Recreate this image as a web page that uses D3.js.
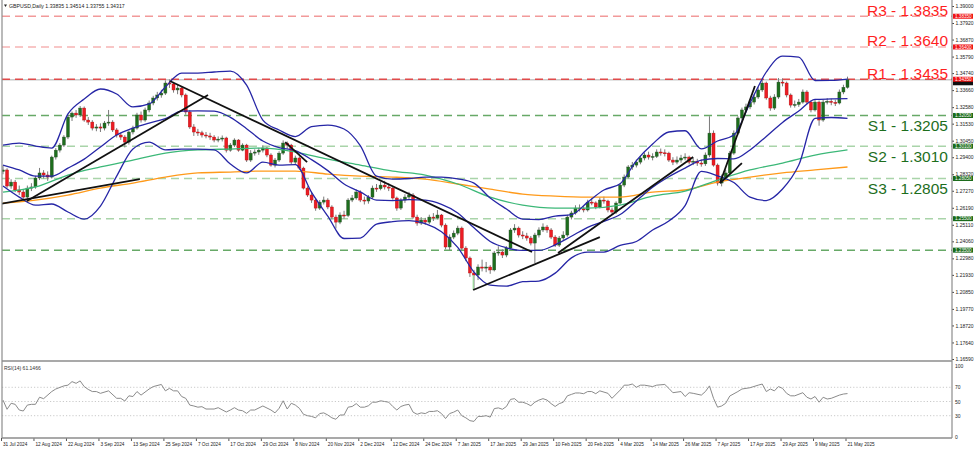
<!DOCTYPE html>
<html>
<head>
<meta charset="utf-8">
<script src="https://cdn.jsdelivr.net/npm/d3@7"></script>
<style>
  body { margin: 0; background: #fff; }
  svg { display: block; font-family: "Liberation Sans", Arial, sans-serif; }
</style>
</head>
<body>
<svg id="chart" width="975" height="451"></svg>
<script>
// GBPUSD daily, 31 Jul 2024 .. 21 May 2025, one entry per bar
const dateLabels = ['31 Jul 2024', '12 Aug 2024', '22 Aug 2024', '3 Sep 2024', '13 Sep 2024', '25 Sep 2024',
  '7 Oct 2024', '17 Oct 2024', '29 Oct 2024', '8 Nov 2024', '20 Nov 2024', '2 Dec 2024', '12 Dec 2024',
  '24 Dec 2024', '7 Jan 2025', '17 Jan 2025', '29 Jan 2025', '10 Feb 2025', '20 Feb 2025', '4 Mar 2025',
  '14 Mar 2025', '26 Mar 2025', '7 Apr 2025', '17 Apr 2025', '29 Apr 2025', '9 May 2025', '21 May 2025']
const barsPerLabel = 8

const opens = [1.2850, 1.2859, 1.2757, 1.2782, 1.2732, 1.2719, 1.2687, 1.2744, 1.2751, 1.2808,
  1.2840, 1.2827, 1.2814, 1.2941, 1.2985, 1.3017, 1.3068, 1.3195, 1.3220, 1.3208,
  1.3252, 1.3176, 1.3163, 1.3125, 1.3132, 1.3125, 1.3157, 1.3163, 1.3113, 1.3081,
  1.3068, 1.3036, 1.3100, 1.3125, 1.3208, 1.3176, 1.3240, 1.3284, 1.3316, 1.3335,
  1.3347, 1.3411, 1.3405, 1.3367, 1.3379, 1.3335, 1.3227, 1.3132, 1.3100, 1.3095,
  1.3081, 1.3075, 1.3068, 1.3049, 1.3055, 1.3062, 1.2985, 1.3017, 1.3049, 1.2985,
  1.3017, 1.2922, 1.2966, 1.2973, 1.2985, 1.2998, 1.2954, 1.2890, 1.2922, 1.2966,
  1.3030, 1.3017, 1.2909, 1.2935, 1.2871, 1.2744, 1.2700, 1.2668, 1.2617, 1.2655,
  1.2668, 1.2624, 1.2560, 1.2528, 1.2573, 1.2570, 1.2668, 1.2681, 1.2719, 1.2668,
  1.2662, 1.2687, 1.2744, 1.2740, 1.2763, 1.2751, 1.2744, 1.2681, 1.2617, 1.2668,
  1.2687, 1.2700, 1.2560, 1.2522, 1.2541, 1.2528, 1.2560, 1.2554, 1.2573, 1.2509,
  1.2370, 1.2433, 1.2458, 1.2490, 1.2363, 1.2300, 1.2205, 1.2192, 1.2243, 1.2236,
  1.2243, 1.2224, 1.2332, 1.2338, 1.2319, 1.2363, 1.2478, 1.2490, 1.2446, 1.2440,
  1.2427, 1.2395, 1.2446, 1.2478, 1.2497, 1.2478, 1.2433, 1.2382, 1.2427, 1.2446,
  1.2560, 1.2586, 1.2617, 1.2612, 1.2605, 1.2655, 1.2650, 1.2624, 1.2668, 1.2662,
  1.2605, 1.2592, 1.2649, 1.2763, 1.2814, 1.2878, 1.2890, 1.2909, 1.2935, 1.2954,
  1.2941, 1.2945, 1.2973, 1.2968, 1.2966, 1.2922, 1.2909, 1.2922, 1.2935, 1.2941,
  1.2909, 1.2915, 1.2903, 1.2898, 1.2954, 1.3093, 1.2890, 1.2776, 1.2808, 1.2840,
  1.2966, 1.3093, 1.3189, 1.3240, 1.3259, 1.3290, 1.3322, 1.3367, 1.3411, 1.3316,
  1.3252, 1.3322, 1.3417, 1.3411, 1.3335, 1.3271, 1.3275, 1.3290, 1.3354, 1.3290,
  1.3240, 1.3290, 1.3176, 1.3290, 1.3295, 1.3288, 1.3284, 1.3354, 1.33835]

const highs = [1.2888, 1.2870, 1.2800, 1.2795, 1.2760, 1.2735, 1.2760, 1.2775, 1.2822, 1.2872,
  1.2858, 1.2850, 1.2950, 1.2998, 1.3030, 1.3080, 1.3210, 1.3230, 1.3240, 1.3265,
  1.3262, 1.3195, 1.3175, 1.3150, 1.3155, 1.3170, 1.3240, 1.3175, 1.3125, 1.3095,
  1.3080, 1.3110, 1.3140, 1.3222, 1.3230, 1.3255, 1.3300, 1.3330, 1.3355, 1.3368,
  1.3428, 1.3434, 1.3418, 1.3400, 1.3392, 1.3345, 1.3240, 1.3150, 1.3120, 1.3108,
  1.3100, 1.3095, 1.3080, 1.3072, 1.3078, 1.3070, 1.3030, 1.3060, 1.3055, 1.3028,
  1.3025, 1.2985, 1.2990, 1.3000, 1.3015, 1.3005, 1.2965, 1.2935, 1.2978, 1.3047,
  1.3040, 1.3025, 1.2950, 1.2945, 1.2880, 1.2755, 1.2715, 1.2680, 1.2668, 1.2690,
  1.2680, 1.2635, 1.2575, 1.2590, 1.2600, 1.2680, 1.2700, 1.2735, 1.2730, 1.2690,
  1.2700, 1.2760, 1.2770, 1.2785, 1.2790, 1.2775, 1.2755, 1.2690, 1.2680, 1.2705,
  1.2720, 1.2712, 1.2575, 1.2560, 1.2555, 1.2575, 1.2585, 1.2605, 1.2580, 1.2520,
  1.2450, 1.2475, 1.2505, 1.2500, 1.2375, 1.2310, 1.2225, 1.2260, 1.2290, 1.2275,
  1.2255, 1.2345, 1.2375, 1.2355, 1.2375, 1.2490, 1.2515, 1.2500, 1.2470, 1.2460,
  1.2440, 1.2460, 1.2495, 1.2520, 1.2510, 1.2490, 1.2445, 1.2440, 1.2470, 1.2575,
  1.2600, 1.2635, 1.2640, 1.2630, 1.2670, 1.2680, 1.2660, 1.2685, 1.2690, 1.2670,
  1.2620, 1.2660, 1.2775, 1.2830, 1.2890, 1.2910, 1.2925, 1.2950, 1.2970, 1.2975,
  1.2965, 1.2990, 1.2995, 1.2990, 1.2975, 1.2940, 1.2945, 1.2955, 1.2965, 1.2950,
  1.2935, 1.2930, 1.2925, 1.2970, 1.3200, 1.3110, 1.2900, 1.2830, 1.2860, 1.2980,
  1.3110, 1.3200, 1.3255, 1.3280, 1.3305, 1.3340, 1.3385, 1.3430, 1.3420, 1.3330,
  1.3340, 1.3443, 1.3440, 1.3420, 1.3345, 1.3300, 1.3310, 1.3370, 1.3365, 1.3300,
  1.3305, 1.3300, 1.3305, 1.3315, 1.3310, 1.3305, 1.3370, 1.3400, 1.34514]

const lows = [1.2832, 1.2745, 1.2740, 1.2718, 1.2700, 1.2665, 1.2675, 1.2725, 1.2740, 1.2795,
  1.2805, 1.2790, 1.2805, 1.2925, 1.2970, 1.3005, 1.3055, 1.3170, 1.3190, 1.3195,
  1.3165, 1.3145, 1.3110, 1.3105, 1.3100, 1.3110, 1.3140, 1.3100, 1.3065, 1.3050,
  1.3002, 1.3020, 1.3085, 1.3115, 1.3160, 1.3165, 1.3225, 1.3270, 1.3300, 1.3318,
  1.3335, 1.3380, 1.3350, 1.3340, 1.3320, 1.3210, 1.3120, 1.3075, 1.3075, 1.3065,
  1.3060, 1.3050, 1.3035, 1.3035, 1.3040, 1.2970, 1.2975, 1.3005, 1.2975, 1.2978,
  1.2910, 1.2910, 1.2950, 1.2955, 1.2970, 1.2940, 1.2880, 1.2875, 1.2910, 1.2955,
  1.2995, 1.2895, 1.2895, 1.2860, 1.2735, 1.2688, 1.2650, 1.2600, 1.2605, 1.2640,
  1.2610, 1.2545, 1.2487, 1.2515, 1.2550, 1.2560, 1.2655, 1.2670, 1.2655, 1.2640,
  1.2645, 1.2675, 1.2720, 1.2730, 1.2735, 1.2725, 1.2670, 1.2600, 1.2605, 1.2650,
  1.2675, 1.2550, 1.2505, 1.2510, 1.2510, 1.2515, 1.2535, 1.2545, 1.2495, 1.2355,
  1.2350, 1.2420, 1.2445, 1.2350, 1.2280, 1.2180, 1.2100, 1.2160, 1.2215, 1.2210,
  1.2200, 1.2215, 1.2315, 1.2300, 1.2305, 1.2355, 1.2460, 1.2430, 1.2420, 1.2410,
  1.2380, 1.2268, 1.2430, 1.2465, 1.2460, 1.2420, 1.2370, 1.2370, 1.2415, 1.2435,
  1.2545, 1.2575, 1.2595, 1.2590, 1.2595, 1.2635, 1.2610, 1.2615, 1.2645, 1.2590,
  1.2575, 1.2580, 1.2640, 1.2750, 1.2805, 1.2860, 1.2875, 1.2895, 1.2920, 1.2925,
  1.2920, 1.2935, 1.2950, 1.2945, 1.2910, 1.2890, 1.2895, 1.2905, 1.2920, 1.2895,
  1.2890, 1.2885, 1.2880, 1.2885, 1.2940, 1.2880, 1.2760, 1.2755, 1.2790, 1.2830,
  1.2955, 1.3080, 1.3175, 1.3225, 1.3245, 1.3275, 1.3310, 1.3355, 1.3305, 1.3235,
  1.3240, 1.3310, 1.3390, 1.3320, 1.3255, 1.3255, 1.3260, 1.3280, 1.3275, 1.3225,
  1.3230, 1.3140, 1.3165, 1.3275, 1.3270, 1.3265, 1.3275, 1.3340, 1.33755]

const closes = [1.2859, 1.2757, 1.2782, 1.2732, 1.2719, 1.2687, 1.2744, 1.2751, 1.2808, 1.2840,
  1.2827, 1.2814, 1.2941, 1.2985, 1.3017, 1.3068, 1.3195, 1.3220, 1.3208, 1.3252,
  1.3176, 1.3163, 1.3125, 1.3132, 1.3125, 1.3157, 1.3163, 1.3113, 1.3081, 1.3068,
  1.3036, 1.3100, 1.3125, 1.3208, 1.3176, 1.3240, 1.3284, 1.3316, 1.3335, 1.3347,
  1.3411, 1.3405, 1.3367, 1.3379, 1.3335, 1.3227, 1.3132, 1.3100, 1.3095, 1.3081,
  1.3075, 1.3068, 1.3049, 1.3055, 1.3062, 1.2985, 1.3017, 1.3049, 1.2985, 1.3017,
  1.2922, 1.2966, 1.2973, 1.2985, 1.2998, 1.2954, 1.2890, 1.2922, 1.2966, 1.3030,
  1.3017, 1.2909, 1.2935, 1.2871, 1.2744, 1.2700, 1.2668, 1.2617, 1.2655, 1.2668,
  1.2624, 1.2560, 1.2528, 1.2573, 1.2570, 1.2668, 1.2681, 1.2719, 1.2668, 1.2662,
  1.2687, 1.2744, 1.2740, 1.2763, 1.2751, 1.2744, 1.2681, 1.2617, 1.2668, 1.2687,
  1.2700, 1.2560, 1.2522, 1.2541, 1.2528, 1.2560, 1.2554, 1.2573, 1.2509, 1.2370,
  1.2433, 1.2458, 1.2490, 1.2363, 1.2300, 1.2205, 1.2192, 1.2243, 1.2236, 1.2243,
  1.2224, 1.2332, 1.2338, 1.2319, 1.2363, 1.2478, 1.2490, 1.2446, 1.2440, 1.2427,
  1.2395, 1.2446, 1.2478, 1.2497, 1.2478, 1.2433, 1.2382, 1.2427, 1.2446, 1.2560,
  1.2586, 1.2617, 1.2612, 1.2605, 1.2655, 1.2650, 1.2624, 1.2668, 1.2662, 1.2605,
  1.2592, 1.2649, 1.2763, 1.2814, 1.2878, 1.2890, 1.2909, 1.2935, 1.2954, 1.2941,
  1.2945, 1.2973, 1.2968, 1.2966, 1.2922, 1.2909, 1.2922, 1.2935, 1.2941, 1.2909,
  1.2915, 1.2903, 1.2898, 1.2954, 1.3093, 1.2890, 1.2776, 1.2808, 1.2840, 1.2966,
  1.3093, 1.3189, 1.3240, 1.3259, 1.3290, 1.3322, 1.3367, 1.3411, 1.3316, 1.3252,
  1.3322, 1.3417, 1.3411, 1.3335, 1.3271, 1.3275, 1.3290, 1.3354, 1.3290, 1.3240,
  1.3290, 1.3176, 1.3290, 1.3295, 1.3288, 1.3284, 1.3354, 1.3384, 1.34317]

// Bollinger bands every 4th bar
const bandStep = 4
const bbUpper = [1.3017, 1.3030, 1.3011, 1.2998, 1.3215, 1.3309, 1.3373, 1.3341, 1.3259, 1.3278,
  1.3386, 1.3474, 1.3474, 1.3481, 1.3487, 1.3398, 1.3176, 1.3113, 1.3071, 1.3134,
  1.3144, 1.3119, 1.3014, 1.2820, 1.2801, 1.2805, 1.2814, 1.2814, 1.2803, 1.2776,
  1.2681, 1.2611, 1.2547, 1.2544, 1.2566, 1.2575, 1.2655, 1.2732, 1.2772, 1.2918,
  1.3024, 1.3100, 1.3108, 1.2993, 1.3043, 1.3081, 1.3284, 1.3481, 1.3582, 1.3576,
  1.3427, 1.3428, 1.3436]
const bbMiddle = [1.2890, 1.2859, 1.2820, 1.2820, 1.2871, 1.2928, 1.3005, 1.3081, 1.3125, 1.3157,
  1.3185, 1.3233, 1.3234, 1.3232, 1.3193, 1.3121, 1.3043, 1.3001, 1.2982, 1.2925,
  1.2855, 1.2770, 1.2720, 1.2668, 1.2665, 1.2671, 1.2667, 1.2640, 1.2586, 1.2492,
  1.2405, 1.2365, 1.2348, 1.2348, 1.2384, 1.2438, 1.2495, 1.2533, 1.2576, 1.2662,
  1.2749, 1.2816, 1.2871, 1.2921, 1.2932, 1.2929, 1.2986, 1.3072, 1.3161, 1.3233,
  1.3307, 1.3310, 1.3312]
const bbLower = [1.2757, 1.2687, 1.2636, 1.2643, 1.2592, 1.2547, 1.2630, 1.2820, 1.2992, 1.3036,
  1.2986, 1.2992, 1.2992, 1.2986, 1.2897, 1.2840, 1.2909, 1.2890, 1.2893, 1.2717,
  1.2566, 1.2424, 1.2427, 1.2516, 1.2531, 1.2538, 1.2519, 1.2467, 1.2368, 1.2211,
  1.2128, 1.2122, 1.2150, 1.2154, 1.2204, 1.2301, 1.2338, 1.2338, 1.2380, 1.2405,
  1.2478, 1.2535, 1.2633, 1.2850, 1.2822, 1.2779, 1.2687, 1.2665, 1.2738, 1.2890,
  1.3186, 1.3192, 1.3187]

// moving averages read every 8th bar
const maStep = 8
const maGreen = [1.2719, 1.2751, 1.2827, 1.2878, 1.2922, 1.2966, 1.2986, 1.2992, 1.2998, 1.2973,
  1.2928, 1.2890, 1.2852, 1.2827, 1.2770, 1.2687, 1.2636, 1.2617, 1.2617, 1.2636,
  1.2693, 1.2725, 1.2795, 1.2859, 1.2903, 1.2954, 1.2986]
const maOrange = [1.2649, 1.2668, 1.2700, 1.2744, 1.2776, 1.2814, 1.2840, 1.2846, 1.2852, 1.2852,
  1.2833, 1.2820, 1.2814, 1.2801, 1.2770, 1.2738, 1.2706, 1.2693, 1.2687, 1.2687,
  1.2719, 1.2732, 1.2782, 1.2814, 1.2840, 1.2859, 1.2878]

// RSI(14): bar index and value as read
const rsiBars = [0, 1, 2, 3, 4, 5, 6, 7, 8, 9, 10, 12, 13, 15, 16, 17, 18, 19, 20, 21, 22, 23, 24, 26, 28, 29, 30,
  31, 32, 33, 34, 36, 37, 39, 40, 41, 42, 43, 44, 45, 46, 47, 48, 49, 50, 52, 53, 55, 56, 57, 58, 59, 60,
  61, 62, 64, 66, 67, 68, 69, 70, 71, 72, 73, 74, 75, 76, 77, 78, 79, 80, 81, 82, 83, 84, 85, 86, 87, 88,
  89, 90, 91, 92, 93, 94, 95, 96, 97, 98, 99, 100, 101, 102, 103, 104, 105, 106, 107, 108, 109, 110, 111,
  112, 113, 114, 115, 116, 117, 118, 119, 120, 121, 122, 123, 124, 125, 126, 127, 128, 129, 130, 131, 132,
  133, 134, 135, 136, 137, 138, 139, 140, 141, 142, 143, 144, 145, 146, 147, 149, 150, 152, 153, 154, 155,
  156, 157, 158, 160, 161, 163, 164, 165, 167, 168, 169, 170, 172, 173, 174, 175, 176, 177, 178, 179, 181,
  182, 183, 184, 186, 187, 188, 189, 190, 191, 192, 193, 194, 195, 197, 198, 199, 200, 201, 202, 203, 204,
  206, 207, 208]
const rsiValues = [52, 39, 47.5, 46, 38, 36.6, 45, 46, 46, 56, 54, 64, 67.6, 72, 73, 78, 75.6, 79, 71, 67, 64, 64, 61.5, 65, 54.5, 54.5, 50.7,
  58, 57, 64, 59, 67.6, 71, 74, 65, 68.5, 65, 65, 57, 54.5, 45, 43.7, 42, 42.7, 39.4, 39.4, 41.3, 35.2, 38, 41.3, 38, 37, 33.3,
  38, 38, 43.7, 38, 34, 40.4, 51, 39.4, 47.5, 45, 40.4, 32, 30, 29, 27, 33, 34, 31, 27, 25, 31, 31, 42, 43, 47, 42,
  42, 44, 49, 49, 51, 50, 49, 43, 38, 43, 45, 46, 35, 32, 34, 33, 36, 36, 37, 33, 26, 33, 35,
  38, 30, 27, 23, 22, 29, 29, 30, 28, 40, 41, 39, 43, 53, 54, 49, 49, 47, 44, 49, 52,
  54, 52, 47, 43, 47, 49, 58, 60, 62, 62, 61, 64, 64, 61, 65, 61.5, 54.5, 66, 73, 73, 74.6,
  70, 73, 73, 71, 73, 74, 68.5, 62.4, 64, 57, 62.4, 61.5, 59, 64, 72, 54.5, 42, 43.7, 47.5, 57.7, 64,
  67.6, 68.5, 69.4, 73, 74.6, 64, 67.6, 65, 71, 68.5, 61.5, 58, 58, 62.4, 56, 53.5, 57, 49, 56, 53.5, 54.5,
  59, 60.5, 61.1466]

const priceTicks = [1.39000, 1.37920, 1.36870, 1.35790, 1.34740, 1.33660, 1.32580, 1.31530, 1.30450, 1.29400,
  1.28320, 1.27270, 1.26190, 1.25110, 1.24060, 1.22980, 1.21930, 1.20850, 1.19770, 1.18720, 1.17640, 1.16590]
const rsiTicks = [100, 70, 50, 30, 0]

const levelNames = ['R3', 'R2', 'R1', 'S1', 'S2', 'S3']
const levelValues = [1.3835, 1.3640, 1.3435, 1.3205, 1.3010, 1.2805]
const extraLevels = [1.2550, 1.2350]

// hand drawn trend lines: [bar, price] end points
const trendLines = [
  [[-0.7, 1.2643], [33.7, 1.2801]],
  [[5.9, 1.2662], [50.5, 1.3335]],
  [[41.1, 1.3424], [130.3, 1.2338]],
  [[69.5, 1.3036], [74.9, 1.2909]],
  [[115.8, 1.2097], [147, 1.2433]],
  [[136.7, 1.2332], [170, 1.2941]],
  [[176.6, 1.2776], [185.2, 1.3392]],
  [[176.6, 1.2776], [182, 1.2903]]
]

const header = 'GBPUSD,Daily 1.33835 1.34514 1.33755 1.34317'

const svg = d3.select('#chart')
const plotLeft = 2
const axisX = 952
const mainBottom = 361
const rsiBottom = 438

const x = d3.scaleLinear().domain([0, 208]).range([3, 847.5])
const y = d3.scaleLinear().domain([1.1659, 1.39]).range([359, 6])
const yRsi = d3.scaleLinear().domain([0, 100]).range([437, 366])

const defs = svg.append('defs')
defs.append('clipPath').attr('id', 'clipMain')
  .append('rect').attr('x', plotLeft).attr('y', 0).attr('width', axisX - plotLeft).attr('height', mainBottom)
defs.append('clipPath').attr('id', 'clipRsi')
  .append('rect').attr('x', plotLeft).attr('y', mainBottom + 1).attr('width', axisX - plotLeft).attr('height', rsiBottom - mainBottom - 1)

const main = svg.append('g').attr('clip-path', 'url(#clipMain)')

// horizontal levels
const levelColor = {
  R3: '#f29a9a', R2: '#f6b4b4', R1: '#e04a4a', S1: '#67a967', S2: '#a9d4a9', S3: '#a9d4a9'
}
const allLevels = levelValues.map((v, i) => ({ name: levelNames[i], value: v }))
  .concat(extraLevels.map((v, i) => ({ name: '', value: v, color: i === 1 ? '#67a967' : '#a9d4a9' })))

main.append('line')
  .attr('x1', plotLeft).attr('x2', axisX)
  .attr('y1', y(closes[closes.length - 1])).attr('y2', y(closes[closes.length - 1]))
  .attr('stroke', '#c8c8c8').attr('stroke-width', 1.5)

main.selectAll('line.level').data(allLevels).enter()
  .append('line').attr('class', 'level')
  .attr('x1', plotLeft).attr('x2', axisX)
  .attr('y1', d => y(d.value)).attr('y2', d => y(d.value))
  .attr('stroke', d => d.color || levelColor[d.name])
  .attr('stroke-width', 1.5)
  .attr('stroke-dasharray', '8,5')

// candles
const bars = d3.range(closes.length)
const candle = main.append('g').selectAll('g').data(bars).enter().append('g')
candle.append('line')
  .attr('x1', i => x(i)).attr('x2', i => x(i))
  .attr('y1', i => y(highs[i])).attr('y2', i => y(lows[i]))
  .attr('stroke', '#7a7a7a').attr('stroke-width', 1)
candle.append('rect')
  .attr('x', i => x(i) - 1.5)
  .attr('width', 3)
  .attr('y', i => y(Math.max(opens[i], closes[i])))
  .attr('height', i => Math.max(1, Math.abs(y(opens[i]) - y(closes[i]))))
  .attr('fill', i => closes[i] >= opens[i] ? '#1d6e1d' : '#ec1c24')
  .attr('stroke', i => closes[i] >= opens[i] ? '#2f4f2f' : '#b01010')
  .attr('stroke-width', 0.4)

// moving averages and bands
const sampled = (values, step) => values.map((v, k) => [k * step, v])
const smooth = d3.line().x(d => x(d[0])).y(d => y(d[1])).curve(d3.curveMonotoneX)

main.append('path').attr('d', smooth(sampled(maOrange, maStep)))
  .attr('fill', 'none').attr('stroke', '#ff9a1a').attr('stroke-width', 1.3)
main.append('path').attr('d', smooth(sampled(maGreen, maStep)))
  .attr('fill', 'none').attr('stroke', '#3cb878').attr('stroke-width', 1.3)

;[bbUpper, bbMiddle, bbLower].forEach(band => {
  main.append('path').attr('d', smooth(sampled(band, bandStep)))
    .attr('fill', 'none').attr('stroke', '#2626a6').attr('stroke-width', 1.3)
})

main.append('line')
  .attr('x1', x(115.8)).attr('x2', x(115.8))
  .attr('y1', y(1.2192)).attr('y2', y(1.2097))
  .attr('stroke', '#8fe08f').attr('stroke-width', 1)

main.selectAll('line.trend').data(trendLines).enter()
  .append('line').attr('class', 'trend')
  .attr('x1', d => x(d[0][0])).attr('y1', d => y(d[0][1]))
  .attr('x2', d => x(d[1][0])).attr('y2', d => y(d[1][1]))
  .attr('stroke', '#111').attr('stroke-width', 1.8)

// level captions
const captions = svg.append('g')
  .attr('font-size', 15.5)
  .attr('text-anchor', 'end')
captions.selectAll('text').data(allLevels.filter(d => d.name)).enter()
  .append('text')
  .attr('x', 948)
  .attr('y', d => d.name[0] === 'R' ? y(d.value) - 0.5 : y(d.value) + 15.5)
  .attr('fill', d => d.name[0] === 'R' ? '#ff1f1f' : '#1d6e1d')
  .text(d => d.name + ' - ' + d.value.toFixed(4))

// price axis
const priceAxis = svg.append('g')
  .attr('transform', `translate(${axisX},0)`)
  .call(d3.axisRight(y).tickValues(priceTicks).tickFormat(d3.format('.5f')).tickSize(2).tickPadding(1.5))
priceAxis.select('.domain').remove()
priceAxis.selectAll('.tick line').attr('stroke', '#444')
priceAxis.selectAll('.tick text').attr('font-size', 5).attr('fill', '#222')
  .attr('font-family', '"Liberation Sans", Arial, sans-serif')

// price tags on the axis
const tagColor = name => name[0] === 'R' ? '#f01414' : '#1a6b1a'
const tags = allLevels.map(d => ({ value: d.value, fill: d.name ? tagColor(d.name) : '#1a6b1a' }))
const tagG = svg.append('g')
tagG.append('rect')
  .attr('x', axisX + 1).attr('y', y(closes[closes.length - 1]) + 0.5)
  .attr('width', 20).attr('height', 5).attr('fill', '#111')
tags.forEach(t => {
  tagG.append('rect')
    .attr('x', axisX + 1).attr('y', y(t.value) - 2.5)
    .attr('width', 20).attr('height', 5).attr('fill', t.fill)
  tagG.append('text')
    .attr('x', axisX + 3).attr('y', y(t.value) + 1.7)
    .attr('font-size', 4.6).attr('fill', '#fff')
    .text(t.value.toFixed(5))
})

// RSI panel
const rsiG = svg.append('g')
rsiG.selectAll('line.lvl').data([70, 50, 30]).enter()
  .append('line').attr('class', 'lvl')
  .attr('x1', plotLeft).attr('x2', axisX)
  .attr('y1', d => yRsi(d)).attr('y2', d => yRsi(d))
  .attr('stroke', '#bdbdbd').attr('stroke-width', 0.8).attr('stroke-dasharray', '1.2,2')

const rsiLine = d3.line().x(d => x(d[0])).y(d => yRsi(d[1]))
rsiG.append('path')
  .attr('clip-path', 'url(#clipRsi)')
  .attr('d', rsiLine(rsiBars.map((b, i) => [b, rsiValues[i]])))
  .attr('fill', 'none').attr('stroke', '#8a8a8a').attr('stroke-width', 1)

rsiG.append('text').attr('x', 4).attr('y', 369.5)
  .attr('font-size', 5).attr('fill', '#333')
  .text('RSI(14) ' + rsiValues[rsiValues.length - 1].toFixed(4))

const rsiAxis = svg.append('g')
  .attr('transform', `translate(${axisX},0)`)
  .call(d3.axisRight(yRsi).tickValues(rsiTicks).tickSize(0).tickPadding(3))
rsiAxis.select('.domain').remove()
rsiAxis.selectAll('.tick text').attr('font-size', 5).attr('fill', '#222')
  .attr('font-family', '"Liberation Sans", Arial, sans-serif')

// time axis
const dateBars = dateLabels.map((d, k) => k * barsPerLabel)
const timeAxis = svg.append('g')
  .attr('transform', `translate(0,${rsiBottom})`)
  .call(d3.axisBottom(x).tickValues(dateBars).tickFormat((d, k) => dateLabels[k]).tickSize(3).tickPadding(2))
timeAxis.select('.domain').remove()
timeAxis.selectAll('.tick line').attr('stroke', '#555').attr('transform', 'translate(-2,0)')
timeAxis.selectAll('.tick text')
  .attr('text-anchor', 'start').attr('dx', -0.5)
  .attr('font-size', 4.7).attr('fill', '#222')
  .attr('font-family', '"Liberation Sans", Arial, sans-serif')

// frame
const frame = svg.append('g').attr('stroke', '#8c8c8c').attr('fill', 'none')
frame.append('line').attr('x1', plotLeft).attr('x2', plotLeft).attr('y1', 0).attr('y2', rsiBottom).attr('stroke-width', 1.2)
frame.append('line').attr('x1', axisX).attr('x2', axisX).attr('y1', 0).attr('y2', rsiBottom).attr('stroke-width', 1.2)
frame.append('line').attr('x1', plotLeft).attr('x2', axisX).attr('y1', mainBottom).attr('y2', mainBottom).attr('stroke-width', 1.6)
frame.append('line').attr('x1', plotLeft).attr('x2', axisX).attr('y1', rsiBottom).attr('y2', rsiBottom).attr('stroke-width', 1.6)

// header
svg.append('path').attr('d', 'M4,4.5 L7,4.5 L5.5,7 Z').attr('fill', '#222')
svg.append('text').attr('x', 9).attr('y', 7.5)
  .attr('font-size', 5.2).attr('fill', '#222')
  .text(header)
</script>
</body>
</html>
